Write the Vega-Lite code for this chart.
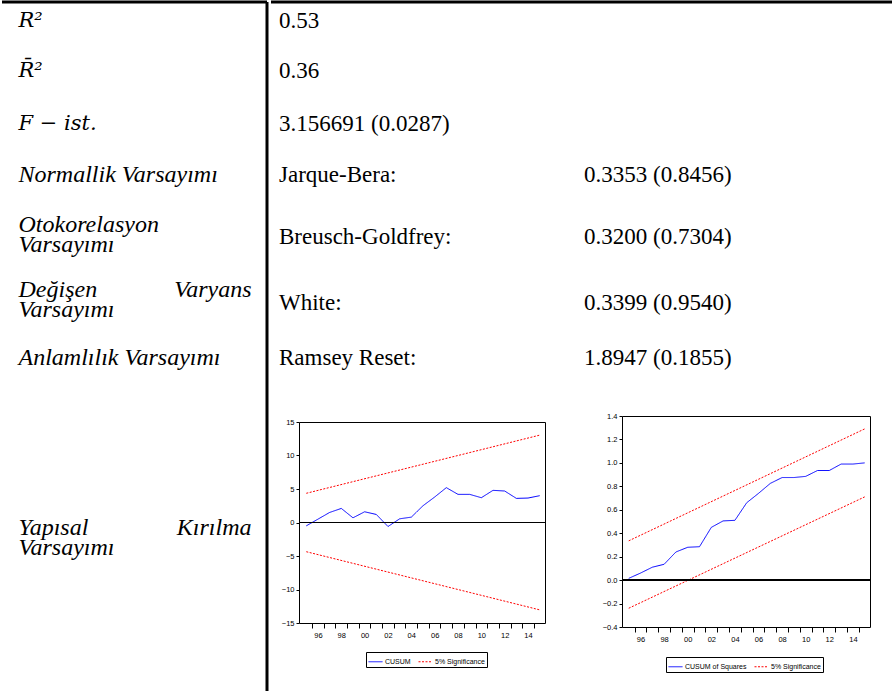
{
  "$schema": "https://vega.github.io/schema/vega-lite/v6.json",
  "padding": 0,
  "background": "white",
  "config": {
    "view": {"stroke": null},
    "text": {"font": "Liberation Serif", "fontSize": 23, "color": "#000"}
  },
  "spacing": 0,
  "resolve": {"scale": {"x": "independent", "y": "independent", "color": "independent", "strokeDash": "independent"}, "legend": {"color": "independent", "strokeDash": "independent"}},
  "hconcat": [
    {
      "width": 265,
      "height": 689,
      "data": {"values": [
        {"row": 1, "side": "m", "text": "R²"},
        {"row": 2, "side": "m", "text": "R̄²"},
        {"row": 3, "side": "m", "text": "F − ist."},
        {"row": 4, "side": "l", "text": "Normallik Varsayımı"},
        {"row": 5, "side": "l", "text": "Otokorelasyon\nVarsayımı"},
        {"row": 6, "side": "l", "text": "Değişen\nVarsayımı"},
        {"row": 6, "side": "r", "text": "Varyans"},
        {"row": 7, "side": "l", "text": "Anlamlılık Varsayımı"},
        {"row": 8, "side": "l", "text": "Yapısal\nVarsayımı"},
        {"row": 8, "side": "r", "text": "Kırılma"}
      ]},
      "layer": [
        {
          "transform": [{"filter": "datum.side === 'l'"}],
          "mark": {"type": "text", "align": "left", "baseline": "middle", "font": "Liberation Serif", "fontSize": 24, "fontStyle": "italic", "lineBreak": "\n", "lineHeight": 20.5},
          "encoding": {
            "x": {"datum": 0, "type": "quantitative", "scale": {"domain": [0, 1], "range": [16.5, 249.5], "nice": false, "zero": false}, "axis": null},
            "y": {"field": "row", "type": "quantitative", "scale": {"domain": [1, 2, 3, 4, 5, 6, 7, 8], "range": [18.5, 68.5, 121.5, 172.5, 222.5, 287.5, 355.5, 525.5], "nice": false, "zero": false}, "axis": null},
            "text": {"field": "text"}
          }
        },
        {
          "transform": [{"filter": "datum.side === 'm'"}],
          "mark": {"type": "text", "align": "left", "baseline": "middle", "font": "DejaVu Serif", "fontSize": 21, "fontStyle": "italic"},
          "encoding": {
            "x": {"datum": 0, "type": "quantitative"},
            "y": {"field": "row", "type": "quantitative"},
            "text": {"field": "text"}
          }
        },
        {
          "transform": [{"filter": "datum.side === 'r'"}],
          "mark": {"type": "text", "align": "right", "baseline": "middle", "font": "Liberation Serif", "fontSize": 24, "fontStyle": "italic"},
          "encoding": {
            "x": {"datum": 1, "type": "quantitative"},
            "y": {"field": "row", "type": "quantitative"},
            "text": {"field": "text"}
          }
        },
        {
          "data": {"values": [{}]},
          "mark": {"type": "rule", "color": "#000", "strokeWidth": 3},
          "encoding": {"x": {"value": 0}, "x2": {"value": "width"}, "y": {"value": 0}}
        },
        {
          "data": {"values": [{}]},
          "mark": {"type": "rule", "color": "#000", "strokeWidth": 3},
          "encoding": {"x": {"value": "width"}, "y": {"value": 0}, "y2": {"value": "height"}}
        }
      ]
    },
    {
      "spacing": 0,
      "resolve": {"scale": {"x": "independent", "y": "independent", "color": "independent", "strokeDash": "independent"}, "legend": {"color": "independent", "strokeDash": "independent"}},
      "vconcat": [
        {
          "width": 624,
          "height": 409,
          "data": {"values": [
            {"row": 1, "col": 1, "text": "0.53"},
            {"row": 2, "col": 1, "text": "0.36"},
            {"row": 3, "col": 1, "text": "3.156691 (0.0287)"},
            {"row": 4, "col": 1, "text": "Jarque-Bera:"},
            {"row": 4, "col": 2, "text": "0.3353 (0.8456)"},
            {"row": 5, "col": 1, "text": "Breusch-Goldfrey:"},
            {"row": 5, "col": 2, "text": "0.3200 (0.7304)"},
            {"row": 6, "col": 1, "text": "White:"},
            {"row": 6, "col": 2, "text": "0.3399 (0.9540)"},
            {"row": 7, "col": 1, "text": "Ramsey Reset:"},
            {"row": 7, "col": 2, "text": "1.8947 (0.1855)"}
          ]},
          "layer": [
            {
              "mark": {"type": "text", "align": "left", "baseline": "middle", "font": "Liberation Serif"},
              "encoding": {
                "x": {"field": "col", "type": "quantitative", "scale": {"domain": [1, 2], "range": [8, 313], "nice": false, "zero": false}, "axis": null},
                "y": {"field": "row", "type": "quantitative", "scale": {"domain": [1, 2, 3, 4, 5, 6, 7], "range": [18.5, 68.5, 121.5, 172.5, 234.5, 300.5, 355.5], "nice": false, "zero": false}, "axis": null},
                "text": {"field": "text"}
              }
            },
            {
              "data": {"values": [{}]},
              "mark": {"type": "rule", "color": "#000", "strokeWidth": 3},
              "encoding": {"x": {"value": 0}, "x2": {"value": "width"}, "y": {"value": 0}}
            }
          ]
        },
        {
          "spacing": 0,
          "resolve": {"scale": {"x": "independent", "y": "independent", "color": "independent", "strokeDash": "independent"}, "legend": {"color": "independent", "strokeDash": "independent"}},
          "hconcat": [
            {
              "width": 9, "height": 1,
              "data": {"values": []},
              "mark": {"type": "point"}
            },
            {
              "spacing": 0,
              "vconcat": [
                {
                  "width": 1, "height": 1,
                  "data": {"values": []},
                  "mark": {"type": "point"}
                },
                {
                  "width": 246,
                  "height": 201,
                  "view": {"stroke": "#000", "strokeWidth": 1},
                  "data": {"values": [
                    {"year": 1995, "value": -0.5, "series": "CUSUM", "part": "c"},
                    {"year": 1996, "value": 0.5, "series": "CUSUM", "part": "c"},
                    {"year": 1997, "value": 1.5, "series": "CUSUM", "part": "c"},
                    {"year": 1998, "value": 2.1, "series": "CUSUM", "part": "c"},
                    {"year": 1999, "value": 0.7, "series": "CUSUM", "part": "c"},
                    {"year": 2000, "value": 1.6, "series": "CUSUM", "part": "c"},
                    {"year": 2001, "value": 1.2, "series": "CUSUM", "part": "c"},
                    {"year": 2002, "value": -0.6, "series": "CUSUM", "part": "c"},
                    {"year": 2003, "value": 0.55, "series": "CUSUM", "part": "c"},
                    {"year": 2004, "value": 0.8, "series": "CUSUM", "part": "c"},
                    {"year": 2005, "value": 2.5, "series": "CUSUM", "part": "c"},
                    {"year": 2006, "value": 3.8, "series": "CUSUM", "part": "c"},
                    {"year": 2007, "value": 5.2, "series": "CUSUM", "part": "c"},
                    {"year": 2008, "value": 4.2, "series": "CUSUM", "part": "c"},
                    {"year": 2009, "value": 4.2, "series": "CUSUM", "part": "c"},
                    {"year": 2010, "value": 3.7, "series": "CUSUM", "part": "c"},
                    {"year": 2011, "value": 4.8, "series": "CUSUM", "part": "c"},
                    {"year": 2012, "value": 4.7, "series": "CUSUM", "part": "c"},
                    {"year": 2013, "value": 3.6, "series": "CUSUM", "part": "c"},
                    {"year": 2014, "value": 3.65, "series": "CUSUM", "part": "c"},
                    {"year": 2015, "value": 4.0, "series": "CUSUM", "part": "c"},
                    {"year": 1995, "value": 4.36, "series": "5% Significance", "part": "u"},
                    {"year": 2015, "value": 13.04, "series": "5% Significance", "part": "u"},
                    {"year": 1995, "value": -4.36, "series": "5% Significance", "part": "l"},
                    {"year": 2015, "value": -13.04, "series": "5% Significance", "part": "l"}
                  ]},
                  "layer": [
                    {
                      "mark": {"type": "line", "strokeWidth": 1},
                      "encoding": {
                        "x": {"field": "year", "type": "quantitative",
                          "scale": {"domain": [1994.375, 2015.455], "nice": false, "zero": false},
                          "axis": {"values": [1995.5, 1996.5, 1997.5, 1998.5, 1999.5, 2000.5, 2001.5, 2002.5, 2003.5, 2004.5, 2005.5, 2006.5, 2007.5, 2008.5, 2009.5, 2010.5, 2011.5, 2012.5, 2013.5, 2014.5],
                            "labelExpr": "(datum.value + 0.5) % 2 === 0 ? substring(toString(datum.value + 0.5), 2, 4) : ''",
                            "labelOffset": 5.8, "tickSize": 5, "labelPadding": 3, "domain": false, "grid": false, "title": null,
                            "labelFontSize": 7.5, "labelFont": "Liberation Sans", "labelColor": "#000", "tickColor": "#000",
                            "labelOverlap": false, "labelBound": false, "labelFlush": false}},
                        "y": {"field": "value", "type": "quantitative",
                          "scale": {"domain": [-15, 15], "nice": false, "zero": false},
                          "axis": {"values": [-15, -10, -5, 0, 5, 10, 15], "tickSize": 3, "labelPadding": 2, "domain": false, "grid": false, "title": null,
                            "labelFontSize": 7.5, "labelFont": "Liberation Sans", "labelColor": "#000", "tickColor": "#000",
                            "labelOverlap": false, "labelBound": false, "labelFlush": false}},
                        "color": {"field": "series", "type": "nominal",
                          "scale": {"domain": ["CUSUM", "5% Significance"], "range": ["#0000ff", "#ff0000"]},
                          "legend": {"title": null, "orient": "none", "legendX": 67, "legendY": 236, "direction": "horizontal", "symbolType": "stroke", "symbolSize": 196, "symbolStrokeWidth": 1,
                            "labelFontSize": 7, "labelFont": "Liberation Sans", "labelColor": "#000", "strokeColor": "#000", "padding": 2, "columnPadding": 5, "labelOffset": 2, "labelLimit": 300}},
                        "strokeDash": {"field": "series", "type": "nominal",
                          "scale": {"domain": ["CUSUM", "5% Significance"], "range": [[1, 0], [2, 1.5]]},
                          "legend": {"title": null, "orient": "none", "legendX": 67, "legendY": 236, "direction": "horizontal", "symbolType": "stroke", "symbolSize": 196, "symbolStrokeWidth": 1,
                            "labelFontSize": 7, "labelFont": "Liberation Sans", "labelColor": "#000", "strokeColor": "#000", "padding": 2, "columnPadding": 5, "labelOffset": 2, "labelLimit": 300}},
                        "detail": {"field": "part"}
                      }
                    },
                    {
                      "mark": {"type": "rule", "color": "#000", "strokeWidth": 1},
                      "encoding": {"y": {"datum": 0, "type": "quantitative",
                        "axis": {"values": [-15, -10, -5, 0, 5, 10, 15], "tickSize": 3, "labelPadding": 2, "domain": false, "grid": false, "title": null,
                          "labelFontSize": 7.5, "labelFont": "Liberation Sans", "labelColor": "#000", "tickColor": "#000",
                          "labelOverlap": false, "labelBound": false, "labelFlush": false}}}
                    }
                  ]
                }
              ]
            },
            {
              "width": 55, "height": 1,
              "data": {"values": []},
              "mark": {"type": "point"}
            },
            {
              "width": 248,
              "height": 211,
              "view": {"stroke": "#000", "strokeWidth": 1},
              "data": {"values": [
                {"year": 1995, "value": 0.015, "series": "CUSUM of Squares", "part": "c"},
                {"year": 1996, "value": 0.06, "series": "CUSUM of Squares", "part": "c"},
                {"year": 1997, "value": 0.11, "series": "CUSUM of Squares", "part": "c"},
                {"year": 1998, "value": 0.135, "series": "CUSUM of Squares", "part": "c"},
                {"year": 1999, "value": 0.24, "series": "CUSUM of Squares", "part": "c"},
                {"year": 2000, "value": 0.28, "series": "CUSUM of Squares", "part": "c"},
                {"year": 2001, "value": 0.285, "series": "CUSUM of Squares", "part": "c"},
                {"year": 2002, "value": 0.45, "series": "CUSUM of Squares", "part": "c"},
                {"year": 2003, "value": 0.505, "series": "CUSUM of Squares", "part": "c"},
                {"year": 2004, "value": 0.51, "series": "CUSUM of Squares", "part": "c"},
                {"year": 2005, "value": 0.66, "series": "CUSUM of Squares", "part": "c"},
                {"year": 2006, "value": 0.74, "series": "CUSUM of Squares", "part": "c"},
                {"year": 2007, "value": 0.825, "series": "CUSUM of Squares", "part": "c"},
                {"year": 2008, "value": 0.875, "series": "CUSUM of Squares", "part": "c"},
                {"year": 2009, "value": 0.875, "series": "CUSUM of Squares", "part": "c"},
                {"year": 2010, "value": 0.885, "series": "CUSUM of Squares", "part": "c"},
                {"year": 2011, "value": 0.935, "series": "CUSUM of Squares", "part": "c"},
                {"year": 2012, "value": 0.935, "series": "CUSUM of Squares", "part": "c"},
                {"year": 2013, "value": 0.99, "series": "CUSUM of Squares", "part": "c"},
                {"year": 2014, "value": 0.99, "series": "CUSUM of Squares", "part": "c"},
                {"year": 2015, "value": 1.0, "series": "CUSUM of Squares", "part": "c"},
                {"year": 1995, "value": 0.335, "series": "5% Significance", "part": "u"},
                {"year": 2015, "value": 1.29, "series": "5% Significance", "part": "u"},
                {"year": 1995, "value": -0.24, "series": "5% Significance", "part": "l"},
                {"year": 2015, "value": 0.71, "series": "5% Significance", "part": "l"}
              ]},
              "layer": [
                {
                  "mark": {"type": "line", "strokeWidth": 1},
                  "encoding": {
                    "x": {"field": "year", "type": "quantitative",
                      "scale": {"domain": [1994.43, 2015.45], "nice": false, "zero": false},
                      "axis": {"values": [1995.5, 1996.5, 1997.5, 1998.5, 1999.5, 2000.5, 2001.5, 2002.5, 2003.5, 2004.5, 2005.5, 2006.5, 2007.5, 2008.5, 2009.5, 2010.5, 2011.5, 2012.5, 2013.5, 2014.5],
                        "labelExpr": "(datum.value + 0.5) % 2 === 0 ? substring(toString(datum.value + 0.5), 2, 4) : ''",
                        "labelOffset": 5.9, "tickSize": 5, "labelPadding": 3, "domain": false, "grid": false, "title": null,
                        "labelFontSize": 7.5, "labelFont": "Liberation Sans", "labelColor": "#000", "tickColor": "#000",
                        "labelOverlap": false, "labelBound": false, "labelFlush": false}},
                    "y": {"field": "value", "type": "quantitative",
                      "scale": {"domain": [-0.4, 1.4], "nice": false, "zero": false},
                      "axis": {"values": [-0.4, -0.2, 0, 0.2, 0.4, 0.6, 0.8, 1.0, 1.2, 1.4], "format": ".1f", "tickSize": 3, "labelPadding": 2, "domain": false, "grid": false, "title": null,
                        "labelFontSize": 7.5, "labelFont": "Liberation Sans", "labelColor": "#000", "tickColor": "#000",
                        "labelOverlap": false, "labelBound": false, "labelFlush": false}},
                    "color": {"field": "series", "type": "nominal",
                      "scale": {"domain": ["CUSUM of Squares", "5% Significance"], "range": ["#0000ff", "#ff0000"]},
                      "legend": {"title": null, "orient": "none", "legendX": 44, "legendY": 241, "direction": "horizontal", "symbolType": "stroke", "symbolSize": 196, "symbolStrokeWidth": 1,
                        "labelFontSize": 7, "labelFont": "Liberation Sans", "labelColor": "#000", "strokeColor": "#000", "padding": 2, "columnPadding": 5, "labelOffset": 2, "labelLimit": 300}},
                    "strokeDash": {"field": "series", "type": "nominal",
                      "scale": {"domain": ["CUSUM of Squares", "5% Significance"], "range": [[1, 0], [2, 1.5]]},
                      "legend": {"title": null, "orient": "none", "legendX": 44, "legendY": 241, "direction": "horizontal", "symbolType": "stroke", "symbolSize": 196, "symbolStrokeWidth": 1,
                        "labelFontSize": 7, "labelFont": "Liberation Sans", "labelColor": "#000", "strokeColor": "#000", "padding": 2, "columnPadding": 5, "labelOffset": 2, "labelLimit": 300}},
                    "detail": {"field": "part"}
                  }
                },
                {
                  "mark": {"type": "rule", "color": "#000", "strokeWidth": 1},
                  "encoding": {"y": {"datum": 0, "type": "quantitative",
                    "axis": {"values": [-0.4, -0.2, 0, 0.2, 0.4, 0.6, 0.8, 1.0, 1.2, 1.4], "format": ".1f", "tickSize": 3, "labelPadding": 2, "domain": false, "grid": false, "title": null,
                      "labelFontSize": 7.5, "labelFont": "Liberation Sans", "labelColor": "#000", "tickColor": "#000",
                      "labelOverlap": false, "labelBound": false, "labelFlush": false}}}
                }
              ]
            }
          ]
        }
      ]
    }
  ]
}
